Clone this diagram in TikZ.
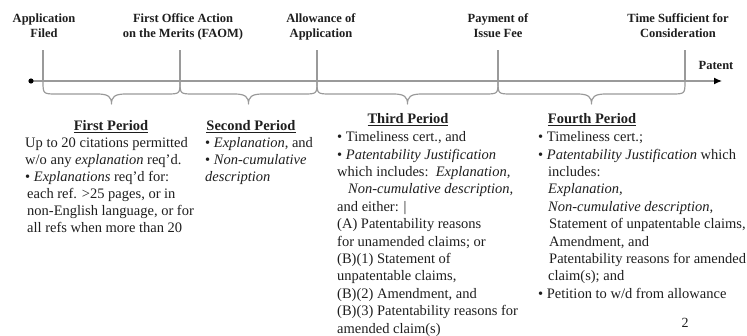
\documentclass[tikz,border=0pt]{standalone}
\usepackage{fontspec}
\setmainfont{Liberation Serif}
\usetikzlibrary{arrows.meta}
\definecolor{ink}{HTML}{1E1E1E}
\definecolor{rulegray}{HTML}{9A9A9A}
\begin{document}
\begin{tikzpicture}[x=1pt,y=-1pt,
  lbl/.style={font=\bfseries\fontsize{12.5}{15}\selectfont, align=center, anchor=north, inner sep=0pt, text=ink},
  ttl/.style={font=\bfseries\fontsize{14.5}{17.4}\selectfont, anchor=base, inner sep=0pt, text=ink},
  bodyA/.style={font=\fontsize{14.5}{17}\selectfont, align=left, anchor=north west, inner sep=0pt, text=ink},
  bodyB/.style={font=\fontsize{14.5}{17.4}\selectfont, align=left, anchor=north west, inner sep=0pt, text=ink},
  axisline/.style={draw=rulegray, line width=1.3pt},
]
\useasboundingbox (0,0) rectangle (747,335);

% timeline
\coordinate (start) at (31,81);
\coordinate (end) at (722,81);
\foreach \n/\x in {1/43,2/180,3/317,4/498,5/685}{
  \coordinate (t\n) at (\x,81);
  \coordinate (u\n) at (\x,50);
}
\foreach \n in {1,...,5}{\draw[axisline] (u\n) -- (t\n);}
\draw[axisline, -{Latex[black,length=8pt,width=7pt]}] (start) -- (end);
\fill[black] (start) circle (2.6pt);

% braces
\foreach \a/\b in {43/180,180/317,317/498,498/685}{
  \pgfmathsetmacro\m{(\a+\b)/2}
  \draw[axisline, line width=1.2pt, line join=round]
    (\a,81) .. controls (\a,94) .. (\a+14,94) -- (\m-14,94)
    .. controls (\m-3,94) and (\m,97) .. (\m,104)
    .. controls (\m,97) and (\m+3,94) .. (\m+14,94) -- (\b-14,94)
    .. controls (\b,94) .. (\b,81);
}

% top labels
\node[lbl] (l1) at (44,11.5) {\strut Application\\Filed};
\node[lbl] (l2) at (183,11.5) {\strut First Office Action\\on the Merits (FAOM)};
\node[lbl] (l3) at (321,11.5) {\strut Allowance of\\Application};
\node[lbl] (l4) at (498,11.5) {\strut Payment of\\Issue Fee};
\node[lbl] (l5) at (678,11.5) {\strut Time Sufficient for\\Consideration};
\node[lbl, anchor=base] (pat) at (716,69) {Patent};

% period titles
\node[ttl] (p1) at (111,130.5) {\underline{First Period}};
\node[ttl] (p2) at (251,130.5) {\underline{Second Period}};
\node[ttl] (p3) at (408,123.5) {\underline{Third Period}};
\node[ttl] (p4) at (592,123.5) {\underline{Fourth Period}};

% period bodies
\node[bodyA] (b1) at (25,135.6) {\strut Up to 20 citations permitted\\
w/o any \textit{explanation} req'd.\\
• \textit{Explanations} req'd for:\\
\hspace*{2pt}each ref. >25 pages, or in\\
\hspace*{2pt}non-English language, or for\\
\hspace*{2pt}all refs when more than 20};

\node[bodyA] (b2) at (205,135.6) {\strut • \textit{Explanation}, and\\
• \textit{Non-cumulative}\\
\textit{description}};

\node[bodyB] (b3) at (337,129.3) {\strut • Timeliness cert., and\\
• \textit{Patentability Justification}\\
which includes:\ \ \textit{Explanation,}\\
\hspace*{11pt}\textit{Non-cumulative description,}\\
and either: |\\
(A) Patentability reasons\\
for unamended claims; or\\
(B)(1) Statement of\\
unpatentable claims,\\
(B)(2) Amendment, and\\
(B)(3) Patentability reasons for\\
amended claim(s)};

\node[bodyB] (b4) at (538,129.3) {\strut • Timeliness cert.;\\
• \textit{Patentability Justification} which\\
\hspace*{10pt}includes:\\
\hspace*{10pt}\textit{Explanation,}\\
\hspace*{10pt}\textit{Non-cumulative description,}\\
\hspace*{11pt}Statement of unpatentable claims,\\
\hspace*{11pt}Amendment, and\\
\hspace*{11pt}Patentability reasons for amended\\
\hspace*{10pt}claim(s); and\\
• Petition to w/d from allowance};

\node[font=\fontsize{14}{17}\selectfont, anchor=base, inner sep=0pt, text=ink] (pg) at (685,327) {2};
\end{tikzpicture}
\end{document}
